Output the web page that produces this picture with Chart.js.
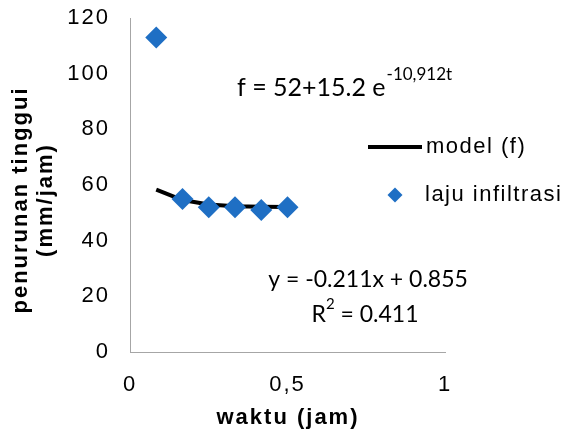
<!DOCTYPE html>
<html><head><meta charset="utf-8">
<script src="https://cdn.jsdelivr.net/npm/chart.js@4/dist/chart.umd.min.js"></script>
<style>html,body{margin:0;padding:0;background:#fff}#wrap{width:565px;height:434px;position:relative}</style>
</head><body><div id="wrap"><canvas id="c"></canvas></div>
<script>
// ---- data ----
const timeHours = [0.0833, 0.1667, 0.25, 0.3333, 0.4167, 0.5];
const infiltrationRate = [113, 55, 52, 52, 51, 52];
const modelValues = [58.3, 54.6, 53.0, 52.4, 52.2, 52.1];
const seriesLabels = ['model (f)', 'laju infiltrasi'];
const xTickValues = [0, 0.5, 1];
const xTickLabels = ['0', '0,5', '1'];
const yTickValues = [0, 20, 40, 60, 80, 100, 120];
const yTickLabels = ['0', '20', '40', '60', '80', '100', '120'];
const xAxisTitle = 'waktu (jam)';
const yAxisTitle = ['penurunan tinggui', '(mm/jam)'];
const modelEquation = ['f = 52+15.2 e', '-10,912t'];
const trendLine1 = 'y = -0.211x + 0.855';
const trendLine2 = ['R', '2', ' = 0.411'];

const BLUE = '#1F6FC4';
const SANS = '"Liberation Sans", Arial, sans-serif';
const CAL = 'Lato, "Open Sans", sans-serif';

const modelPts = timeHours.map((t, i) => ({x: t, y: modelValues[i]}));
const ratePts = timeHours.map((t, i) => ({x: t, y: infiltrationRate[i]}));

function txt(ctx, s, x, y, font, ls, align, base) {
  ctx.font = font;
  ctx.letterSpacing = ls || '0px';
  ctx.textAlign = align || 'left';
  ctx.textBaseline = base || 'alphabetic';
  ctx.fillText(s, x, y);
}

const extras = {
  id: 'extras',
  beforeDraw(chart) { chart.ctx.letterSpacing = '2px'; },
  afterDatasetsDraw(chart) { chart.ctx.letterSpacing = '0px'; },
  afterDraw(chart) {
    const ctx = chart.ctx;
    ctx.save();
    ctx.fillStyle = '#000';
    // y axis title
    ctx.save();
    ctx.translate(21, 200);
    ctx.rotate(-Math.PI / 2);
    txt(ctx, yAxisTitle[0], 0, 0, 'bold 22px ' + SANS, '2px', 'center', 'middle');
    ctx.restore();
    ctx.save();
    ctx.translate(46, 200);
    ctx.rotate(-Math.PI / 2);
    txt(ctx, yAxisTitle[1], 0, 0, 'bold 22px ' + SANS, '2px', 'center', 'middle');
    ctx.restore();
    // x axis title
    txt(ctx, xAxisTitle, 288, 418, 'bold 22px ' + SANS, '2px', 'center', 'middle');

    // legend
    const ds = chart.data.datasets;
    ctx.strokeStyle = '#000';
    ctx.lineWidth = 4;
    ctx.beginPath(); ctx.moveTo(368, 147); ctx.lineTo(422, 147); ctx.stroke();
    txt(ctx, ds[0].label, 426, 147, '22px ' + SANS, '1.5px', 'left', 'middle');
    ctx.fillStyle = BLUE;
    ctx.beginPath();
    ctx.moveTo(395 - 7.5, 195); ctx.lineTo(395, 195 - 7.5); ctx.lineTo(395 + 7.5, 195); ctx.lineTo(395, 195 + 7.5);
    ctx.closePath(); ctx.fill();
    ctx.fillStyle = '#000';
    txt(ctx, ds[1].label, 425, 195, '22px ' + SANS, '1.5px', 'left', 'middle');

    // model equation
    txt(ctx, modelEquation[0], 237, 96, '25px ' + CAL, '0px');
    ctx.font = '25px ' + CAL;
    const w0 = ctx.measureText(modelEquation[0]).width;
    txt(ctx, modelEquation[1], 237 + w0 + 1, 80, '17px ' + CAL, '0px');

    // trend equation
    txt(ctx, trendLine1, 368, 287, '23px ' + CAL, '0px', 'center');
    ctx.font = '23px ' + CAL;
    const wR = ctx.measureText(trendLine2[0]).width;
    const wEq = ctx.measureText(trendLine2[2]).width;
    ctx.font = '15px ' + CAL;
    const w2 = ctx.measureText(trendLine2[1]).width;
    const total = wR + w2 + wEq;
    let x0 = 365 - total / 2;
    txt(ctx, trendLine2[0], x0, 322, '23px ' + CAL, '0px');
    txt(ctx, trendLine2[1], x0 + wR, 309, '15px ' + CAL, '0px');
    txt(ctx, trendLine2[2], x0 + wR + w2, 322, '23px ' + CAL, '0px');
    ctx.restore();
  }
};

new Chart(document.getElementById('c'), {
  type: 'scatter',
  data: {
    datasets: [
      {
        label: seriesLabels[0], data: modelPts, showLine: true,
        borderColor: '#000', borderWidth: 4, pointRadius: 0, pointHoverRadius: 0,
        fill: false, tension: 0, order: 1
      },
      {
        label: seriesLabels[1], data: ratePts, showLine: false,
        pointStyle: 'rectRot', pointRadius: 11, pointHoverRadius: 11,
        backgroundColor: BLUE, borderColor: BLUE, borderWidth: 0, order: 0
      }
    ]
  },
  options: {
    responsive: true, maintainAspectRatio: false, animation: false,
    layout: {padding: {left: 0, top: 18, right: 120, bottom: 0}},
    plugins: {legend: {display: false}, tooltip: {enabled: false}, title: {display: false}},
    events: [],
    scales: {
      x: {
        type: 'linear', min: 0, max: 1,
        afterBuildTicks(s) { s.ticks = xTickValues.map(v => ({value: v})); },
        afterFit(s) { s.height = 82; s.paddingLeft = 0; s.paddingRight = 0; },
        grid: {display: true, drawOnChartArea: false, drawTicks: false},
        border: {display: true, color: '#A6A6A6', width: 1},
        ticks: {
          padding: 20, color: '#000', font: {family: SANS, size: 22},
          callback: (v) => { const i = xTickValues.indexOf(v); return i >= 0 ? xTickLabels[i] : ''; }
        }
      },
      y: {
        type: 'linear', min: 0, max: 120,
        afterBuildTicks(s) { s.ticks = yTickValues.map(v => ({value: v})); },
        afterFit(s) { s.width = 130; s.paddingTop = 0; s.paddingBottom = 0; },
        grid: {display: true, drawOnChartArea: false, drawTicks: false},
        border: {display: true, color: '#A6A6A6', width: 1},
        ticks: {
          padding: 20, color: '#000', font: {family: SANS, size: 22},
          callback: (v) => { const i = yTickValues.indexOf(v); return i >= 0 ? yTickLabels[i] : ''; }
        }
      }
    }
  },
  plugins: [extras]
});
</script></body></html>
